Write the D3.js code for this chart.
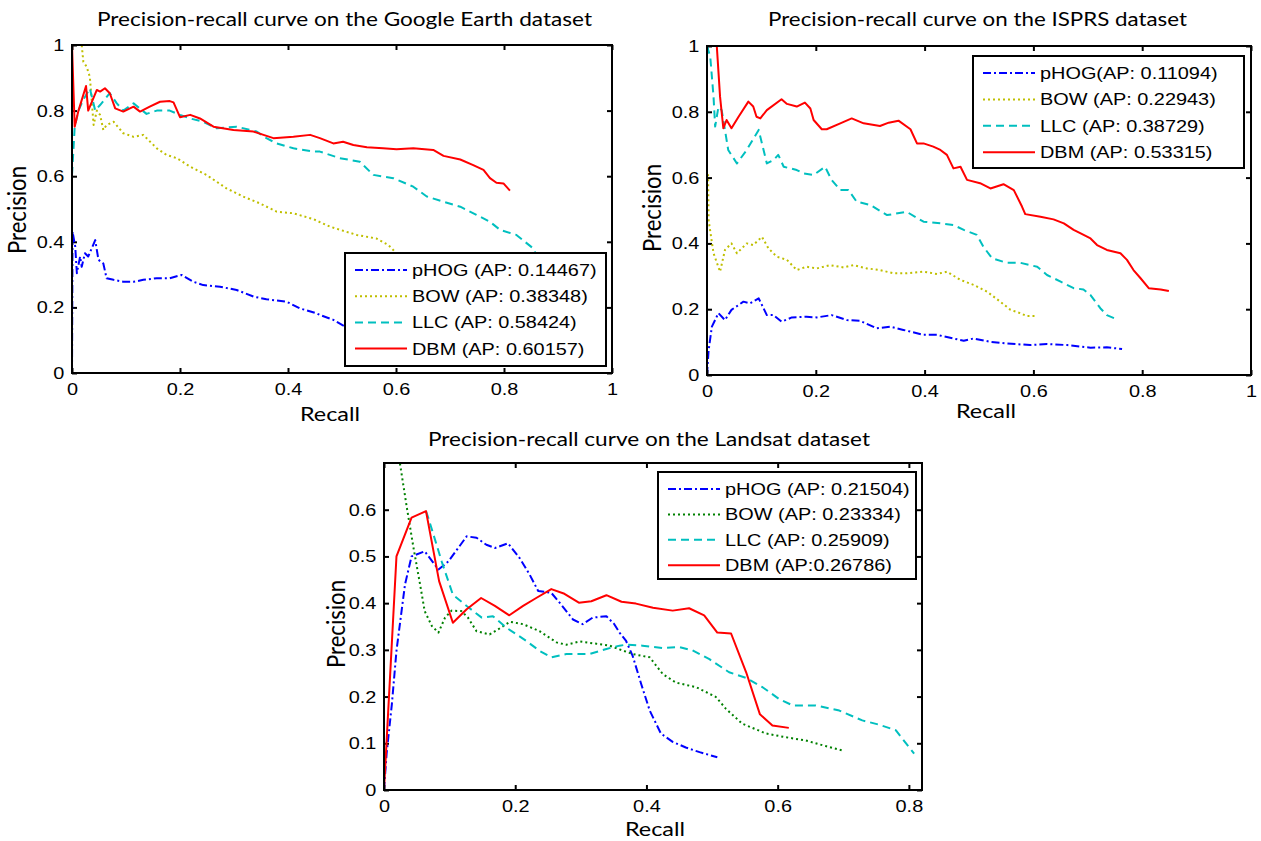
<!DOCTYPE html>
<html><head><meta charset="utf-8">
<script src="https://cdn.jsdelivr.net/npm/d3@7"></script>
<style>body{margin:0;background:#fff}</style>
</head><body><svg id="c" width="1261" height="841"></svg>
<script>
// ---------------- DATA ----------------
const seriesNames = ["pHOG", "BOW", "LLC", "DBM"];
const titles = [
  "Precision-recall curve on the Google Earth dataset",
  "Precision-recall curve on the ISPRS dataset",
  "Precision-recall curve on the Landsat dataset"
];
const geLegend = ["pHOG (AP: 0.14467)", "BOW (AP: 0.38348)", "LLC (AP: 0.58424)", "DBM (AP: 0.60157)"];
const isLegend = ["pHOG(AP: 0.11094)", "BOW (AP: 0.22943)", "LLC (AP: 0.38729)", "DBM (AP: 0.53315)"];
const lsLegend = ["pHOG (AP: 0.21504)", "BOW (AP: 0.23334)", "LLC (AP: 0.25909)", "DBM (AP:0.26786)"];
const ticks01 = [0, 0.2, 0.4, 0.6, 0.8, 1];
const ticksLsX = [0, 0.2, 0.4, 0.6, 0.8];
const ticksLsY = [0, 0.1, 0.2, 0.3, 0.4, 0.5, 0.6];

// Google Earth [recall, precision]
const gePHOG = [[0,0],[0.001,0.431],[0.006,0.385],[0.009,0.304],[0.015,0.355],[0.018,0.324],[0.024,0.365],[0.030,0.355],[0.043,0.405],[0.049,0.345],[0.058,0.334],[0.064,0.289],[0.077,0.284],[0.095,0.278],[0.114,0.278],[0.132,0.284],[0.157,0.289],[0.181,0.289],[0.203,0.299],[0.225,0.278],[0.243,0.268],[0.274,0.263],[0.305,0.253],[0.336,0.233],[0.360,0.225],[0.398,0.217],[0.422,0.197],[0.453,0.182],[0.459,0.177],[0.484,0.162],[0.506,0.141],[0.53,0.125]];
const geBOW = [[0,1],[0.018,1],[0.021,0.949],[0.027,0.934],[0.033,0.903],[0.036,0.842],[0.040,0.756],[0.046,0.800],[0.052,0.787],[0.058,0.741],[0.064,0.756],[0.077,0.766],[0.095,0.731],[0.114,0.720],[0.132,0.726],[0.157,0.685],[0.175,0.665],[0.194,0.655],[0.219,0.629],[0.249,0.604],[0.286,0.563],[0.317,0.538],[0.348,0.517],[0.379,0.492],[0.410,0.487],[0.447,0.469],[0.478,0.446],[0.527,0.421],[0.564,0.410],[0.586,0.390],[0.598,0.370],[0.61,0.34]];
const geLLC = [[0,0.604],[0.005,0.75],[0.012,0.80],[0.02,0.83],[0.033,0.868],[0.043,0.80],[0.052,0.817],[0.070,0.853],[0.083,0.822],[0.095,0.800],[0.114,0.822],[0.138,0.790],[0.157,0.800],[0.181,0.800],[0.200,0.787],[0.219,0.776],[0.243,0.766],[0.268,0.746],[0.305,0.751],[0.342,0.736],[0.360,0.716],[0.379,0.700],[0.410,0.685],[0.447,0.675],[0.459,0.675],[0.496,0.655],[0.533,0.644],[0.558,0.604],[0.595,0.594],[0.632,0.568],[0.657,0.538],[0.688,0.522],[0.719,0.507],[0.749,0.482],[0.774,0.461],[0.793,0.436],[0.823,0.421],[0.854,0.380],[0.865,0.34]];
const geDBM = [[0,1],[0.005,0.751],[0.012,0.80],[0.026,0.875],[0.030,0.800],[0.046,0.863],[0.052,0.858],[0.061,0.868],[0.070,0.853],[0.080,0.807],[0.095,0.797],[0.114,0.812],[0.126,0.797],[0.144,0.812],[0.163,0.827],[0.181,0.829],[0.188,0.825],[0.200,0.780],[0.219,0.787],[0.237,0.776],[0.262,0.751],[0.299,0.741],[0.336,0.736],[0.373,0.716],[0.410,0.720],[0.441,0.726],[0.459,0.716],[0.484,0.700],[0.502,0.705],[0.521,0.695],[0.546,0.688],[0.576,0.685],[0.601,0.682],[0.632,0.685],[0.669,0.680],[0.688,0.662],[0.719,0.651],[0.743,0.634],[0.762,0.619],[0.774,0.594],[0.786,0.580],[0.799,0.578],[0.811,0.556]];

// ISPRS
const isPHOG = [[0,0],[0.003,0.076],[0.009,0.147],[0.021,0.188],[0.033,0.167],[0.045,0.198],[0.067,0.223],[0.079,0.218],[0.095,0.233],[0.110,0.182],[0.122,0.182],[0.137,0.162],[0.156,0.175],[0.183,0.177],[0.202,0.175],[0.229,0.182],[0.257,0.167],[0.281,0.165],[0.312,0.142],[0.337,0.147],[0.361,0.137],[0.398,0.122],[0.423,0.122],[0.453,0.111],[0.472,0.104],[0.490,0.111],[0.521,0.101],[0.551,0.096],[0.594,0.091],[0.625,0.094],[0.662,0.091],[0.705,0.083],[0.735,0.084],[0.763,0.079]];
const isBOW = [[0.002,0.61],[0.003,0.47],[0.012,0.370],[0.024,0.314],[0.033,0.380],[0.045,0.400],[0.055,0.370],[0.073,0.400],[0.085,0.395],[0.101,0.420],[0.113,0.385],[0.128,0.360],[0.147,0.350],[0.165,0.319],[0.183,0.329],[0.202,0.324],[0.226,0.334],[0.251,0.327],[0.269,0.334],[0.294,0.324],[0.318,0.319],[0.343,0.309],[0.367,0.309],[0.398,0.314],[0.423,0.307],[0.441,0.314],[0.466,0.289],[0.490,0.274],[0.515,0.253],[0.539,0.223],[0.558,0.198],[0.576,0.188],[0.588,0.179],[0.607,0.179]];
const isLLC = [[0,1],[0.006,0.967],[0.012,0.846],[0.015,0.755],[0.021,0.815],[0.027,0.805],[0.033,0.745],[0.039,0.684],[0.055,0.643],[0.073,0.684],[0.095,0.745],[0.101,0.704],[0.110,0.643],[0.122,0.653],[0.131,0.669],[0.141,0.633],[0.165,0.623],[0.177,0.613],[0.196,0.608],[0.217,0.633],[0.229,0.593],[0.245,0.562],[0.260,0.562],[0.275,0.527],[0.300,0.517],[0.331,0.486],[0.367,0.496],[0.398,0.466],[0.429,0.461],[0.453,0.456],[0.472,0.441],[0.496,0.426],[0.508,0.390],[0.524,0.355],[0.551,0.341],[0.576,0.341],[0.607,0.329],[0.625,0.304],[0.650,0.284],[0.674,0.264],[0.692,0.260],[0.705,0.243],[0.723,0.203],[0.735,0.182],[0.754,0.169]];
const isDBM = [[0,1],[0.018,1],[0.024,0.846],[0.030,0.750],[0.036,0.775],[0.045,0.750],[0.058,0.785],[0.076,0.831],[0.085,0.816],[0.091,0.785],[0.098,0.780],[0.110,0.805],[0.137,0.838],[0.147,0.824],[0.165,0.816],[0.180,0.828],[0.190,0.810],[0.196,0.775],[0.211,0.747],[0.220,0.747],[0.245,0.765],[0.266,0.780],[0.288,0.765],[0.318,0.757],[0.334,0.767],[0.352,0.773],[0.374,0.747],[0.386,0.704],[0.398,0.704],[0.416,0.694],[0.429,0.684],[0.441,0.669],[0.453,0.628],[0.466,0.633],[0.478,0.593],[0.502,0.583],[0.521,0.567],[0.545,0.580],[0.564,0.562],[0.579,0.512],[0.585,0.489],[0.613,0.481],[0.637,0.473],[0.656,0.461],[0.674,0.441],[0.686,0.431],[0.705,0.415],[0.717,0.395],[0.735,0.380],[0.760,0.370],[0.772,0.350],[0.784,0.319],[0.797,0.294],[0.812,0.264],[0.834,0.260],[0.849,0.255]];

// Landsat
const lsPHOG = [[0,0],[0.004,0.078],[0.012,0.184],[0.019,0.298],[0.032,0.440],[0.042,0.500],[0.062,0.511],[0.083,0.472],[0.098,0.489],[0.111,0.514],[0.126,0.543],[0.141,0.540],[0.156,0.525],[0.169,0.518],[0.189,0.528],[0.207,0.496],[0.222,0.461],[0.235,0.426],[0.255,0.422],[0.270,0.397],[0.288,0.365],[0.303,0.355],[0.318,0.369],[0.339,0.372],[0.351,0.355],[0.359,0.337],[0.369,0.319],[0.379,0.287],[0.392,0.227],[0.405,0.170],[0.422,0.121],[0.440,0.103],[0.460,0.091],[0.481,0.081],[0.508,0.070]];
const lsBOW = [[0.022,0.72],[0.035,0.603],[0.045,0.518],[0.055,0.440],[0.062,0.383],[0.073,0.351],[0.083,0.337],[0.093,0.369],[0.103,0.384],[0.118,0.383],[0.128,0.369],[0.141,0.340],[0.161,0.333],[0.174,0.344],[0.192,0.360],[0.212,0.355],[0.237,0.340],[0.263,0.316],[0.278,0.311],[0.298,0.318],[0.324,0.313],[0.344,0.309],[0.359,0.301],[0.379,0.291],[0.405,0.284],[0.425,0.248],[0.445,0.230],[0.476,0.220],[0.506,0.199],[0.521,0.174],[0.546,0.142],[0.582,0.121],[0.612,0.113],[0.643,0.106],[0.673,0.094],[0.701,0.084]];
const lsLLC = [[0.064,0.597],[0.067,0.585],[0.088,0.489],[0.105,0.418],[0.126,0.394],[0.149,0.369],[0.166,0.372],[0.187,0.347],[0.217,0.319],[0.237,0.298],[0.255,0.284],[0.278,0.291],[0.313,0.291],[0.339,0.302],[0.359,0.309],[0.369,0.311],[0.394,0.309],[0.425,0.304],[0.450,0.306],[0.470,0.299],[0.496,0.280],[0.526,0.252],[0.552,0.240],[0.577,0.220],[0.602,0.195],[0.623,0.181],[0.658,0.181],[0.694,0.170],[0.729,0.149],[0.754,0.140],[0.780,0.128],[0.790,0.110],[0.808,0.078]];
const lsDBM = [[0,0],[0.019,0.500],[0.042,0.583],[0.064,0.597],[0.084,0.447],[0.105,0.358],[0.126,0.387],[0.148,0.411],[0.169,0.394],[0.191,0.374],[0.212,0.394],[0.232,0.411],[0.255,0.430],[0.275,0.420],[0.297,0.401],[0.316,0.404],[0.339,0.417],[0.362,0.403],[0.384,0.399],[0.410,0.390],[0.440,0.384],[0.465,0.389],[0.488,0.374],[0.508,0.337],[0.529,0.335],[0.552,0.252],[0.573,0.162],[0.592,0.138],[0.617,0.133]];

// ---------------- STYLE / LAYOUT ----------------
const dashes = {pHOG: "8,3,2,3", BOW: "2,3", LLC: "8,5", DBM: null};
const colorsA = {pHOG: "#0000ff", BOW: "#bfbf00", LLC: "#00bfbf", DBM: "#ff0000"};
const colorsB = {pHOG: "#0000ff", BOW: "#008000", LLC: "#00bfbf", DBM: "#ff0000"};
const SX = 1.17; // horizontal stretch of the source figure's text
const ARIAL = "'Liberation Sans', Arial, sans-serif";
const CAL = "Lato, 'Open Sans', sans-serif";

const panels = [
  {title: titles[0], box: {l: 72, t: 45, r: 612, b: 373}, xd: [0, 1], yd: [0, 1], xt: ticks01, yt: ticks01,
   series: [gePHOG, geBOW, geLLC, geDBM], legend: geLegend, colors: colorsA,
   lg: {x: 345, y: 253, w: 261, h: 113, dy: 26.2}, tpos: [344.5, 26, 495], xl: [330, 421], yl: [17, 210]},
  {title: titles[1], box: {l: 707, t: 46, r: 1251, b: 375}, xd: [0, 1], yd: [0, 1], xt: ticks01, yt: ticks01,
   series: [isPHOG, isBOW, isLLC, isDBM], legend: isLegend, colors: colorsA,
   lg: {x: 973, y: 56, w: 271, h: 112, dy: 26.4}, tpos: [977.5, 26, 419], xl: [986, 418], yl: [652, 208]},
  {title: titles[2], box: {l: 384, t: 463, r: 922, b: 790}, xd: [0, 0.82], yd: [0, 0.7], xt: ticksLsX, yt: ticksLsY,
   series: [lsPHOG, lsBOW, lsLLC, lsDBM], legend: lsLegend, colors: colorsB,
   lg: {x: 658, y: 472, w: 258, h: 107, dy: 25.4}, tpos: [649, 446, 442], xl: [655, 836], yl: [336, 624]}
];

const svg = d3.select("#c");
svg.append("rect").attr("width", 1261).attr("height", 841).attr("fill", "#fff");

function txt(sel, x, y, s, o = {}) {
  const sx = o.sx ?? SX;
  const g = sel.append("g").attr("transform", `translate(${x},${y}) scale(${sx},1)` + (o.rot ? ` rotate(${o.rot})` : ""));
  const t = g.append("text").attr("font-family", o.family || ARIAL).attr("font-size", o.size || 17)
    .attr("text-anchor", o.anchor || "start").attr("fill", "#000").text(s);
  if (o.dy) t.attr("dy", o.dy);
  if (o.len) t.attr("textLength", o.len).attr("lengthAdjust", "spacingAndGlyphs");
  return t;
}

panels.forEach((p, pi) => {
  const b = p.box;
  const x = d3.scaleLinear().domain(p.xd).range([b.l, b.r]);
  const y = d3.scaleLinear().domain(p.yd).range([b.b, b.t]);
  const g = svg.append("g");

  const clipId = "clip" + pi;
  g.append("clipPath").attr("id", clipId).append("rect")
    .attr("x", b.l).attr("y", b.t).attr("width", b.r - b.l).attr("height", b.b - b.t);

  // axes (ticks inward, MATLAB style)
  const fmt = d3.format("~g");
  const ax = [
    g.append("g").attr("transform", `translate(0,${b.b})`).call(d3.axisBottom(x).tickValues(p.xt).tickFormat(fmt).tickSize(-5).tickSizeOuter(0).tickPadding(10)),
    g.append("g").attr("transform", `translate(0,${b.t})`).call(d3.axisTop(x).tickValues(p.xt).tickFormat("").tickSize(-5).tickSizeOuter(0)),
    g.append("g").attr("transform", `translate(${b.l},0)`).call(d3.axisLeft(y).tickValues(p.yt).tickFormat(fmt).tickSize(-5).tickSizeOuter(0).tickPadding(6.5)),
    g.append("g").attr("transform", `translate(${b.r},0)`).call(d3.axisRight(y).tickValues(p.yt).tickFormat("").tickSize(-5).tickSizeOuter(0))
  ];
  ax.forEach(a => {
    a.select(".domain").remove();
    a.selectAll(".tick line").attr("stroke", "#000").attr("stroke-width", 2);
    a.selectAll(".tick text").attr("font-family", ARIAL).attr("font-size", 17).attr("fill", "#000")
      .attr("transform", `scale(${SX},1)`);
  });

  // data lines
  const line = d3.line().x(d => x(d[0])).y(d => y(d[1]));
  const lg = g.append("g").attr("clip-path", `url(#${clipId})`);
  p.series.forEach((s, i) => {
    const name = seriesNames[i];
    lg.append("path").datum(s).attr("d", line).attr("fill", "none")
      .attr("stroke", p.colors[name]).attr("stroke-width", 2)
      .attr("stroke-dasharray", dashes[name]).attr("stroke-linejoin", "round");
  });

  // box
  g.append("rect").attr("x", b.l).attr("y", b.t).attr("width", b.r - b.l).attr("height", b.b - b.t)
    .attr("fill", "none").attr("stroke", "#000").attr("stroke-width", 2);

  // legend
  const L = p.lg;
  const leg = g.append("g");
  leg.append("rect").attr("x", L.x).attr("y", L.y).attr("width", L.w).attr("height", L.h)
    .attr("fill", "#fff").attr("stroke", "#000").attr("stroke-width", 2);
  p.legend.forEach((t, i) => {
    const name = seriesNames[i];
    const cy = L.y + 17 + i * L.dy;
    leg.append("line").attr("x1", L.x + 10).attr("x2", L.x + 62).attr("y1", cy).attr("y2", cy)
      .attr("stroke", p.colors[name]).attr("stroke-width", 2).attr("stroke-dasharray", dashes[name]);
    txt(leg, L.x + 67, cy + 6, t);
  });

  // titles and labels
  txt(g, p.tpos[0], p.tpos[1], p.title, {family: CAL, size: 19, anchor: "middle", len: p.tpos[2] / SX});
  txt(g, p.xl[0], p.xl[1], "Recall", {family: CAL, size: 20, anchor: "middle"});
  txt(g, p.yl[0], p.yl[1], "Precision", {family: CAL, size: 21, anchor: "middle", rot: -90, dy: "0.35em", len: 88});
});
</script>
</body></html>
